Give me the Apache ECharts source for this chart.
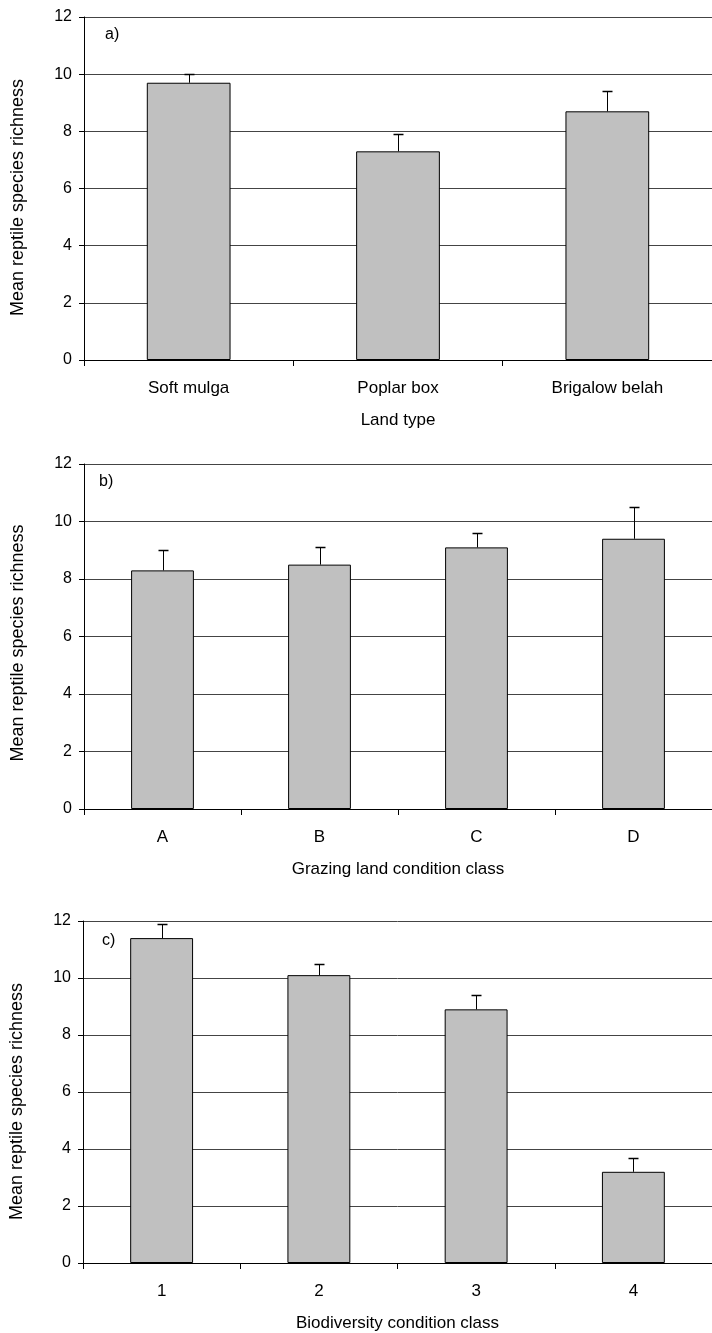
<!DOCTYPE html>
<html><head><meta charset="utf-8">
<script src="https://cdn.jsdelivr.net/npm/echarts@6/dist/echarts.min.js"></script>
<style>html,body{margin:0;padding:0;background:#fff}#c{width:712px;height:1333px}</style>
</head><body><div id="c"></div>
<script>
const yTicks = [0, 2, 4, 6, 8, 10, 12];
const catsA = ['Soft mulga', 'Poplar box', 'Brigalow belah'];
const meanA = [9.7, 7.3, 8.7];
const upperA = [10.0, 7.9, 9.4];
const catsB = ['A', 'B', 'C', 'D'];
const meanB = [8.3, 8.5, 9.1, 9.4];
const upperB = [9.0, 9.1, 9.6, 10.5];
const catsC = ['1', '2', '3', '4'];
const meanC = [11.4, 10.1, 8.9, 3.2];
const upperC = [11.9, 10.5, 9.4, 3.7];
const xTitles = ['Land type', 'Grazing land condition class', 'Biodiversity condition class'];
const panelTags = ['a)', 'b)', 'c)'];
const yTitle = 'Mean reptile species richness';

const FONT = 'Liberation Sans, Arial, sans-serif';
const panels = [
  {cats: catsA, mean: meanA, upper: upperA},
  {cats: catsB, mean: meanB, upper: upperB},
  {cats: catsC, mean: meanC, upper: upperC}
];
const grids = [
  {left: 84, top: 17, width: 633, height: 343},
  {left: 84, top: 464, width: 631, height: 345},
  {left: 82, top: 921, width: 634, height: 345}
];
const tagPos = [[100, 22], [94, 469], [97, 928]];
const yTitleShift = [18, 13, 19];

const option = {
  animation: false,
  backgroundColor: '#fff',
  title: panelTags.map((t, i) => ({
    text: t, left: tagPos[i][0], top: tagPos[i][1],
    textStyle: {fontFamily: FONT, fontSize: 16, fontWeight: 'normal', color: '#000'}
  })),
  grid: grids,
  xAxis: panels.map((p, i) => ({
    type: 'category', gridIndex: i, data: p.cats,
    name: xTitles[i], nameLocation: 'middle', nameGap: 52,
    nameTextStyle: {fontFamily: FONT, fontSize: 17, color: '#000'},
    axisLine: {lineStyle: {color: '#000', width: 1}},
    axisTick: {show: true, length: 6, lineStyle: {color: '#000'}},
    axisLabel: {fontFamily: FONT, fontSize: 17, color: '#000', margin: 20}
  })),
  yAxis: panels.map((p, i) => ({
    type: 'value', gridIndex: i, min: yTicks[0], max: yTicks[yTicks.length - 1], interval: yTicks[1] - yTicks[0],
    name: yTitle, nameLocation: 'middle', nameGap: 57,
    nameTextStyle: {fontFamily: FONT, fontSize: 18, color: '#000', padding: [0, yTitleShift[i], 0, 0]},
    axisLine: {show: true, lineStyle: {color: '#000', width: 1}},
    axisTick: {show: true, length: 5, lineStyle: {color: '#000'}},
    axisLabel: {fontFamily: FONT, fontSize: 16, color: '#000', margin: 12},
    splitLine: {show: true, lineStyle: {color: '#444', width: 1}}
  })),
  series: []
};

panels.forEach((p, i) => {
  option.series.push({
    type: 'bar', xAxisIndex: i, yAxisIndex: i, data: p.mean,
    barWidth: '40%',
    itemStyle: {color: '#c0c0c0', borderColor: '#000', borderWidth: 1},
    z: 2
  });
  option.series.push({
    type: 'custom', xAxisIndex: i, yAxisIndex: i,
    data: p.cats.map((c, j) => [j, p.mean[j], p.upper[j]]),
    encode: {x: 0, y: [1, 2]},
    z: 3,
    renderItem: function (params, api) {
      const base = api.coord([api.value(0), api.value(1)]);
      const top = api.coord([api.value(0), api.value(2)]);
      const x = Math.round(top[0]) + 0.5;
      const yt = Math.round(top[1]) + 0.5;
      return {
        type: 'group',
        children: [
          {type: 'line', shape: {x1: x, y1: base[1], x2: x, y2: yt}, style: {stroke: '#000', lineWidth: 1}},
          {type: 'line', shape: {x1: x - 5, y1: yt, x2: x + 5, y2: yt}, style: {stroke: '#000', lineWidth: 1.5}}
        ]
      };
    }
  });
});

const chart = echarts.init(document.getElementById('c'), null, {renderer: 'canvas'});
chart.setOption(option);
</script>
</body></html>
